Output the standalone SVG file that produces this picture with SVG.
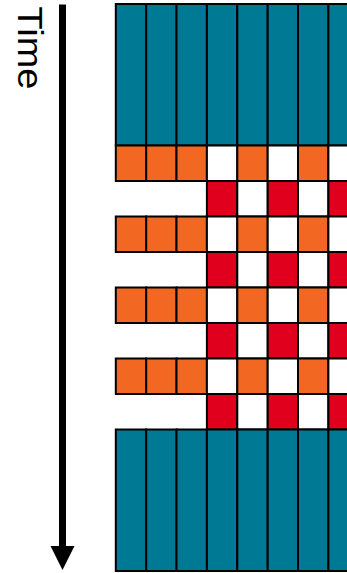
<svg xmlns="http://www.w3.org/2000/svg" width="347" height="573" viewBox="0 0 347 573">
<style>
.c{stroke:#000;stroke-width:2}
.t{fill:#007A94}
.o{fill:#F26722}
.r{fill:#E0001E}
.w{fill:#FFFFFF}
.lbl{font-family:"Liberation Sans",Arial,sans-serif;font-size:35px;fill:#000}
</style>
<rect width="347" height="573" fill="#fff"/>
<g id="label-time">
<text class="lbl" transform="translate(17.5,6.5) rotate(90)" textLength="83" lengthAdjust="spacingAndGlyphs">Time</text>
</g>
<g id="connectors">
<line x1="62.5" y1="4.5" x2="62.5" y2="548" stroke="#000" stroke-width="7"/>
<polygon points="50.5,546 74.5,546 62.5,570" fill="#000"/>
</g>
<g id="top-block">
<rect class="c t" x="115.8" y="4" width="30.4" height="141.5"/>
<rect class="c t" x="146.2" y="4" width="30.4" height="141.5"/>
<rect class="c t" x="176.5" y="4" width="30.4" height="141.5"/>
<rect class="c t" x="206.9" y="4" width="30.4" height="141.5"/>
<rect class="c t" x="237.3" y="4" width="30.4" height="141.5"/>
<rect class="c t" x="267.7" y="4" width="30.4" height="141.5"/>
<rect class="c t" x="298" y="4" width="30.4" height="141.5"/>
<rect class="c t" x="328.4" y="4" width="30.4" height="141.5"/>
</g>
<g id="row-1">
<rect class="c o" x="115.8" y="145.5" width="30.4" height="35.5"/>
<rect class="c o" x="146.2" y="145.5" width="30.4" height="35.5"/>
<rect class="c o" x="176.5" y="145.5" width="30.4" height="35.5"/>
<rect class="c w" x="206.9" y="145.5" width="30.4" height="35.5"/>
<rect class="c o" x="237.3" y="145.5" width="30.4" height="35.5"/>
<rect class="c w" x="267.7" y="145.5" width="30.4" height="35.5"/>
<rect class="c o" x="298" y="145.5" width="30.4" height="35.5"/>
<rect class="c w" x="328.4" y="145.5" width="30.4" height="35.5"/>
</g>
<g id="row-2">
<rect class="c r" x="206.9" y="181" width="30.4" height="35.5"/>
<rect class="c w" x="237.3" y="181" width="30.4" height="35.5"/>
<rect class="c r" x="267.7" y="181" width="30.4" height="35.5"/>
<rect class="c w" x="298" y="181" width="30.4" height="35.5"/>
<rect class="c r" x="328.4" y="181" width="30.4" height="35.5"/>
</g>
<g id="row-3">
<rect class="c o" x="115.8" y="216.5" width="30.4" height="35.5"/>
<rect class="c o" x="146.2" y="216.5" width="30.4" height="35.5"/>
<rect class="c o" x="176.5" y="216.5" width="30.4" height="35.5"/>
<rect class="c w" x="206.9" y="216.5" width="30.4" height="35.5"/>
<rect class="c o" x="237.3" y="216.5" width="30.4" height="35.5"/>
<rect class="c w" x="267.7" y="216.5" width="30.4" height="35.5"/>
<rect class="c o" x="298" y="216.5" width="30.4" height="35.5"/>
<rect class="c w" x="328.4" y="216.5" width="30.4" height="35.5"/>
</g>
<g id="row-4">
<rect class="c r" x="206.9" y="252" width="30.4" height="35.5"/>
<rect class="c w" x="237.3" y="252" width="30.4" height="35.5"/>
<rect class="c r" x="267.7" y="252" width="30.4" height="35.5"/>
<rect class="c w" x="298" y="252" width="30.4" height="35.5"/>
<rect class="c r" x="328.4" y="252" width="30.4" height="35.5"/>
</g>
<g id="row-5">
<rect class="c o" x="115.8" y="287.5" width="30.4" height="35.5"/>
<rect class="c o" x="146.2" y="287.5" width="30.4" height="35.5"/>
<rect class="c o" x="176.5" y="287.5" width="30.4" height="35.5"/>
<rect class="c w" x="206.9" y="287.5" width="30.4" height="35.5"/>
<rect class="c o" x="237.3" y="287.5" width="30.4" height="35.5"/>
<rect class="c w" x="267.7" y="287.5" width="30.4" height="35.5"/>
<rect class="c o" x="298" y="287.5" width="30.4" height="35.5"/>
<rect class="c w" x="328.4" y="287.5" width="30.4" height="35.5"/>
</g>
<g id="row-6">
<rect class="c r" x="206.9" y="323" width="30.4" height="35.5"/>
<rect class="c w" x="237.3" y="323" width="30.4" height="35.5"/>
<rect class="c r" x="267.7" y="323" width="30.4" height="35.5"/>
<rect class="c w" x="298" y="323" width="30.4" height="35.5"/>
<rect class="c r" x="328.4" y="323" width="30.4" height="35.5"/>
</g>
<g id="row-7">
<rect class="c o" x="115.8" y="358.5" width="30.4" height="35.5"/>
<rect class="c o" x="146.2" y="358.5" width="30.4" height="35.5"/>
<rect class="c o" x="176.5" y="358.5" width="30.4" height="35.5"/>
<rect class="c w" x="206.9" y="358.5" width="30.4" height="35.5"/>
<rect class="c o" x="237.3" y="358.5" width="30.4" height="35.5"/>
<rect class="c w" x="267.7" y="358.5" width="30.4" height="35.5"/>
<rect class="c o" x="298" y="358.5" width="30.4" height="35.5"/>
<rect class="c w" x="328.4" y="358.5" width="30.4" height="35.5"/>
</g>
<g id="row-8">
<rect class="c r" x="206.9" y="394" width="30.4" height="35.5"/>
<rect class="c w" x="237.3" y="394" width="30.4" height="35.5"/>
<rect class="c r" x="267.7" y="394" width="30.4" height="35.5"/>
<rect class="c w" x="298" y="394" width="30.4" height="35.5"/>
<rect class="c r" x="328.4" y="394" width="30.4" height="35.5"/>
</g>
<g id="bottom-block">
<rect class="c t" x="115.8" y="429.5" width="30.4" height="141.5"/>
<rect class="c t" x="146.2" y="429.5" width="30.4" height="141.5"/>
<rect class="c t" x="176.5" y="429.5" width="30.4" height="141.5"/>
<rect class="c t" x="206.9" y="429.5" width="30.4" height="141.5"/>
<rect class="c t" x="237.3" y="429.5" width="30.4" height="141.5"/>
<rect class="c t" x="267.7" y="429.5" width="30.4" height="141.5"/>
<rect class="c t" x="298" y="429.5" width="30.4" height="141.5"/>
<rect class="c t" x="328.4" y="429.5" width="30.4" height="141.5"/>
</g>
</svg>
